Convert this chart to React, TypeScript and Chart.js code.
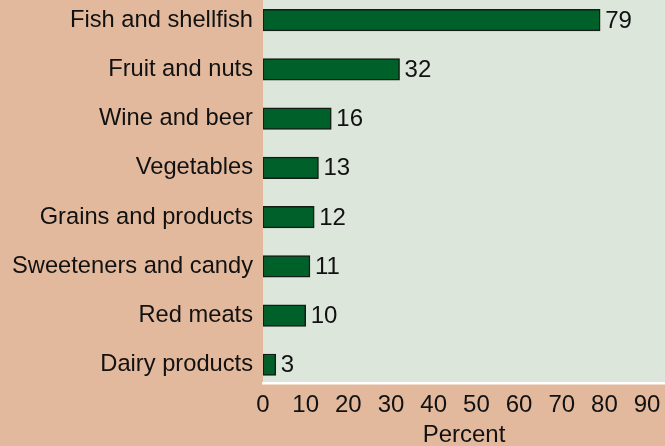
import React, { useEffect, useRef } from "react";
import { Chart, registerables } from "chart.js";

Chart.register(...registerables);

const categories: string[] = [
  "Fish and shellfish",
  "Fruit and nuts",
  "Wine and beer",
  "Vegetables",
  "Grains and products",
  "Sweeteners and candy",
  "Red meats",
  "Dairy products",
];
const values: number[] = [79, 32, 16, 13, 12, 11, 10, 3];
const xTicks: number[] = [0, 10, 20, 30, 40, 50, 60, 70, 80, 90];
const xTitle = "Percent";

const FONT = "'Liberation Sans', Arial, Helvetica, sans-serif";
const PAGE_BG = "#e3b99d";
const PLOT_BG = "#dce6db";
const BAR = "#00602a";
const TEXT = "#111111";

export default function App() {
  const ref = useRef<HTMLCanvasElement | null>(null);

  useEffect(() => {
    document.body.style.margin = "0";
    const canvas = ref.current;
    if (!canvas) return;

    const bgPlugin = {
      id: "bgPlugin",
      beforeDraw(chart: any) {
        const { ctx, chartArea } = chart;
        ctx.save();
        ctx.fillStyle = PAGE_BG;
        ctx.fillRect(0, 0, chart.width, chart.height);
        ctx.fillStyle = PLOT_BG;
        ctx.fillRect(chartArea.left, chartArea.top, chartArea.right - chartArea.left, chartArea.bottom - chartArea.top);
        ctx.restore();
      },
    };

    const valueLabels = {
      id: "valueLabels",
      afterDatasetsDraw(chart: any) {
        const { ctx } = chart;
        const meta = chart.getDatasetMeta(0);
        ctx.save();
        ctx.font = `24px ${FONT}`;
        ctx.fillStyle = TEXT;
        ctx.textAlign = "left";
        ctx.textBaseline = "middle";
        meta.data.forEach((bar: any, i: number) => {
          ctx.fillText(String(values[i]), bar.x + 5, bar.y + 1);
        });
        ctx.restore();
      },
    };

    const chart = new Chart(canvas, {
      type: "bar",
      data: {
        datasets: [
          {
            data: values.map((v, i) => ({ x: v, y: i })),
            backgroundColor: BAR,
            borderColor: "#141c16",
            borderWidth: 1.5,
            borderSkipped: false,
            barThickness: 21.5,
          },
        ],
      },
      options: {
        indexAxis: "y",
        responsive: false,
        animation: false,
        layout: { padding: 0 },
        plugins: {
          legend: { display: false },
          tooltip: { enabled: false },
        },
        scales: {
          x: {
            type: "linear",
            position: "bottom",
            min: 0,
            max: 94.2,
            offset: false,
            afterFit(scale: any) {
              scale.height = 63;
              scale.paddingLeft = 0;
              scale.paddingRight = 0;
              scale.paddingTop = 0;
              scale.paddingBottom = 0;
            },
            afterBuildTicks(scale: any) {
              scale.ticks = xTicks.map((v) => ({ value: v }));
            },
            grid: { display: false, drawTicks: false, offset: false },
            border: { display: true, color: "#ffffff", width: 2.5 },
            ticks: {
              padding: 8,
              color: TEXT,
              font: { family: FONT, size: 24 },
              maxRotation: 0,
              autoSkip: false,
            },
            title: {
              display: true,
              text: xTitle,
              color: TEXT,
              font: { family: FONT, size: 24, lineHeight: 0.92 },
              padding: { top: 0, bottom: 0 },
            },
          },
          y: {
            type: "linear",
            position: "left",
            reverse: true,
            offset: false,
            min: -0.41,
            max: 7.37,
            afterFit(scale: any) {
              scale.width = 263;
              scale.paddingLeft = 0;
              scale.paddingRight = 0;
              scale.paddingTop = 0;
              scale.paddingBottom = 0;
            },
            afterBuildTicks(scale: any) {
              scale.ticks = categories.map((_, i) => ({ value: i }));
            },
            grid: { display: false, drawTicks: false, offset: false },
            border: { display: false },
            ticks: {
              padding: 10,
              color: TEXT,
              font: { family: FONT, size: 23.7 },
              autoSkip: false,
              callback: (v: any) => categories[Number(v)] ?? "",
            },
          },
        },
      },
      plugins: [bgPlugin, valueLabels],
    });

    return () => chart.destroy();
  }, []);

  return (
    <div style={{ width: 665, height: 446 }}>
      <canvas ref={ref} width={665} height={446} style={{ display: "block" }} />
    </div>
  );
}
